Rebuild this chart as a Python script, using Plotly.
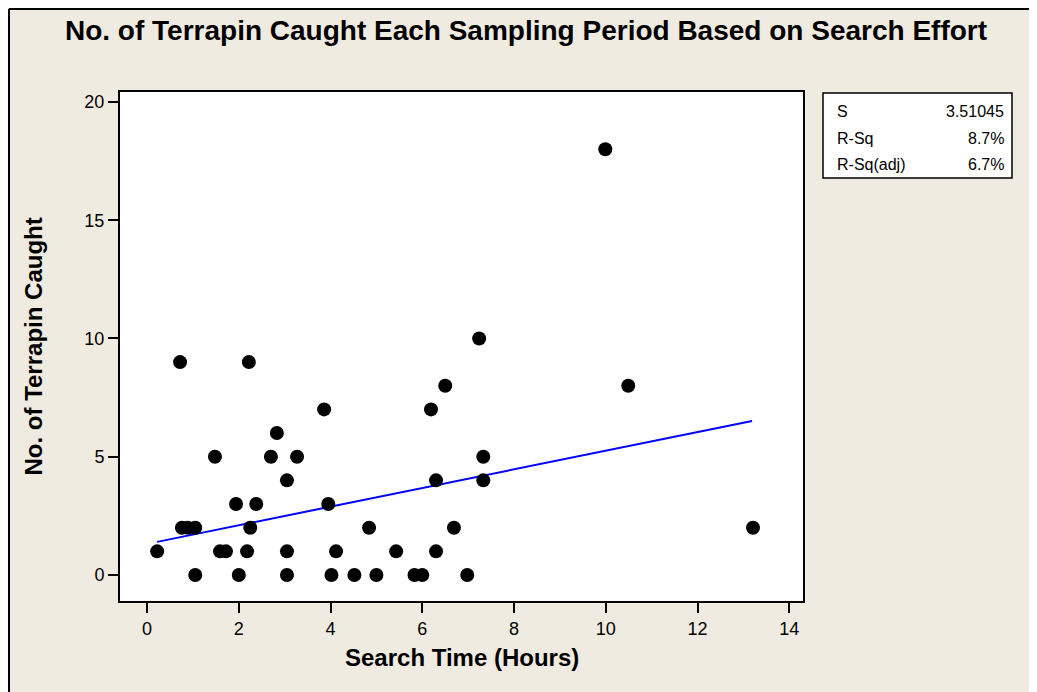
import plotly.graph_objects as go

# search time (hours) and number of terrapin caught
search_hours = [
    1.05, 2.0, 3.05, 4.02, 4.52, 5.0, 5.83, 6.0, 6.98,
    0.22, 1.59, 1.72, 2.18, 3.05, 4.12, 5.43, 6.3,
    0.76, 0.89, 1.05, 2.25, 4.84, 6.69, 13.21,
    1.94, 2.38, 3.95,
    3.05, 6.3, 7.33,
    1.48, 2.7, 3.27, 7.33,
    2.83,
    3.86, 6.19,
    6.5, 10.49,
    0.72, 2.22,
    7.24,
    9.99,
]
terrapin_caught = [
    0, 0, 0, 0, 0, 0, 0, 0, 0,
    1, 1, 1, 1, 1, 1, 1, 1,
    2, 2, 2, 2, 2, 2, 2,
    3, 3, 3,
    4, 4, 4,
    5, 5, 5, 5,
    6,
    7, 7,
    8, 8,
    9, 9,
    10,
    18,
]

# fitted line as drawn
fit_x = [0.22, 13.19]
fit_y = [1.40, 6.51]

stat_names = ["S", "R-Sq", "R-Sq(adj)"]
stat_values = ["3.51045", "8.7%", "6.7%"]

BG = "#efebe0"
FONT = "Liberation Sans, Arial, sans-serif"

W, H = 1037, 692
# plot area in figure pixels (page is offset by the 8px body margin)
L, R, T, B = 112, 795, 84, 593


def px(x):
    return (x - L) / (R - L)


def py(y):
    return (B - y) / (B - T)


fig = go.Figure()
fig.add_trace(go.Scatter(
    x=fit_x, y=fit_y, mode="lines",
    line=dict(color="#0000ff", width=2), hoverinfo="skip",
))
fig.add_trace(go.Scatter(
    x=search_hours, y=terrapin_caught, mode="markers",
    marker=dict(color="black", size=14, line=dict(width=0)),
))

fig.update_layout(
    width=W, height=H,
    margin=dict(l=L, r=W - R, t=T, b=H - B),
    paper_bgcolor=BG, plot_bgcolor="white",
    showlegend=False,
    font=dict(family=FONT, color="black", size=18),
    title=dict(
        text="<b>No. of Terrapin Caught Each Sampling Period Based on Search Effort</b>",
        x=518 / W, xanchor="center", y=1 - 22 / H, yanchor="middle",
        font=dict(size=28, family=FONT),
    ),
)
fig.update_xaxes(
    range=[-0.59, 14.3], tickvals=[0, 2, 4, 6, 8, 10, 12, 14],
    showgrid=False, zeroline=False,
    showline=True, linecolor="black", linewidth=2, mirror=True,
    ticks="outside", ticklen=10, tickwidth=2, tickcolor="black",
)
fig.update_yaxes(
    range=[-1.1, 20.42], tickvals=[0, 5, 10, 15, 20],
    showgrid=False, zeroline=False,
    showline=True, linecolor="black", linewidth=2, mirror=True,
    ticks="outside", ticklen=10, tickwidth=2, tickcolor="black",
)

# axis titles
fig.add_annotation(xref="paper", yref="paper", x=0.5, y=py(649),
                   text="<b>Search Time (Hours)</b>", showarrow=False,
                   xanchor="center", yanchor="middle", font=dict(size=24))
fig.add_annotation(xref="paper", yref="paper", x=px(25), y=0.5,
                   text="<b>No. of Terrapin Caught</b>", showarrow=False, textangle=-90,
                   xanchor="center", yanchor="middle", font=dict(size=24))

# outer frame: only left and top edges are inside the window
frame = dict(color="black", width=2)
fig.add_shape(type="line", xref="paper", yref="paper",
              x0=px(1), x1=px(1), y0=py(H), y1=py(1), line=frame, layer="below")
fig.add_shape(type="line", xref="paper", yref="paper",
              x0=px(1), x1=px(W), y0=py(1), y1=py(1), line=frame, layer="below")

# stats box
fig.add_shape(type="rect", xref="paper", yref="paper",
              x0=px(815), x1=px(1004), y0=py(170), y1=py(85),
              line=dict(color="black", width=1.5), fillcolor="white")
for i, (name, val) in enumerate(zip(stat_names, stat_values)):
    yy = py(104 + 26 * i)
    fig.add_annotation(xref="paper", yref="paper", x=px(827), y=yy,
                       text=name, showarrow=False, xanchor="left", yanchor="middle",
                       font=dict(size=16))
    fig.add_annotation(xref="paper", yref="paper", x=px(998), y=yy,
                       text=val, showarrow=False, xanchor="right", yanchor="middle",
                       font=dict(size=16))

fig.write_html("out.html", post_script="document.body.style.overflow='hidden';")
